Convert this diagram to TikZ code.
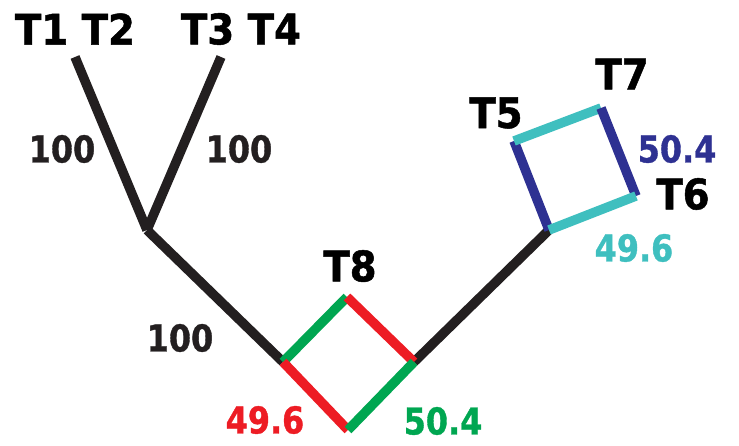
\documentclass[tikz,border=0pt]{standalone}
\usepackage{fontspec}
\setmainfont{DejaVu Sans}
\newfontfamily\taxonfont{DejaVu Sans}[FakeStretch=0.92, BoldFeatures={FakeBold=1.2}]
\newfontfamily\supportfont{DejaVu Sans}[FakeStretch=0.86, BoldFeatures={FakeBold=1.0}]
\definecolor{ink}{HTML}{231F20}
\definecolor{branchred}{HTML}{ED1C24}
\definecolor{branchgreen}{HTML}{00A651}
\definecolor{branchcyan}{HTML}{3FBFBF}
\definecolor{branchnavy}{HTML}{2E3192}
\begin{document}
\begin{tikzpicture}[x=1pt,y=-1pt,
  branch/.style={line width=9.5pt,line cap=butt},
  taxon/.style={font=\taxonfont\bfseries\fontsize{42}{42}\selectfont,text=black,inner sep=0pt},
  support/.style={font=\supportfont\bfseries\fontsize{37}{37}\selectfont,inner sep=0pt}]
\useasboundingbox (0,0) rectangle (739,446);
% tree vertices
\coordinate (t12) at (75,57);
\coordinate (t34) at (221,57);
\coordinate (root) at (147,230);
\coordinate (dl) at (283,362);
\coordinate (dt) at (347,297);
\coordinate (dr) at (414,362);
\coordinate (db) at (348,430);
\coordinate (sa) at (549,230);
\coordinate (sb) at (514,141);
\coordinate (sc) at (601,108);
\coordinate (sd) at (636,196);
% black backbone
\draw[branch,ink] (t12) -- (root);
\draw[branch,ink] (t34) -- (root);
\draw[branch,ink] (root) -- (dl);
\draw[branch,ink] (dr) -- (sa);
% reticulation around T8
\draw[branch,branchgreen] (dl) -- (dt);
\draw[branch,branchred] (dt) -- (dr);
\draw[branch,branchred] (dl) -- (db);
\draw[branch,branchgreen] (db) -- (dr);
% reticulation around T5, T6, T7
\draw[branch,branchnavy] (sa) -- (sb);
\draw[branch,branchcyan] (sb) -- (sc);
\draw[branch,branchnavy] (sc) -- (sd);
\draw[branch,branchcyan] (sd) -- (sa);
% taxon names
\node[taxon] (n12) at (75,29) {T1 T2};
\node[taxon] (n34) at (241,29) {T3 T4};
\node[taxon] (n8) at (350,266) {T8};
\node[taxon] (n5) at (496,113) {T5};
\node[taxon] (n7) at (622,74) {T7};
\node[taxon] (n6) at (683,194) {T6};
% support values
\node[support,text=ink] (s1) at (62,149) {100};
\node[support,text=ink] (s2) at (239,149) {100};
\node[support,text=ink] (s3) at (180,338) {100};
\node[support,text=branchred] (s4) at (265,420) {49.6};
\node[support,text=branchgreen] (s5) at (443,421) {50.4};
\node[support,text=branchnavy] (s6) at (677,149) {50.4};
\node[support,text=branchcyan] (s7) at (634,248) {49.6};
\end{tikzpicture}
\end{document}
